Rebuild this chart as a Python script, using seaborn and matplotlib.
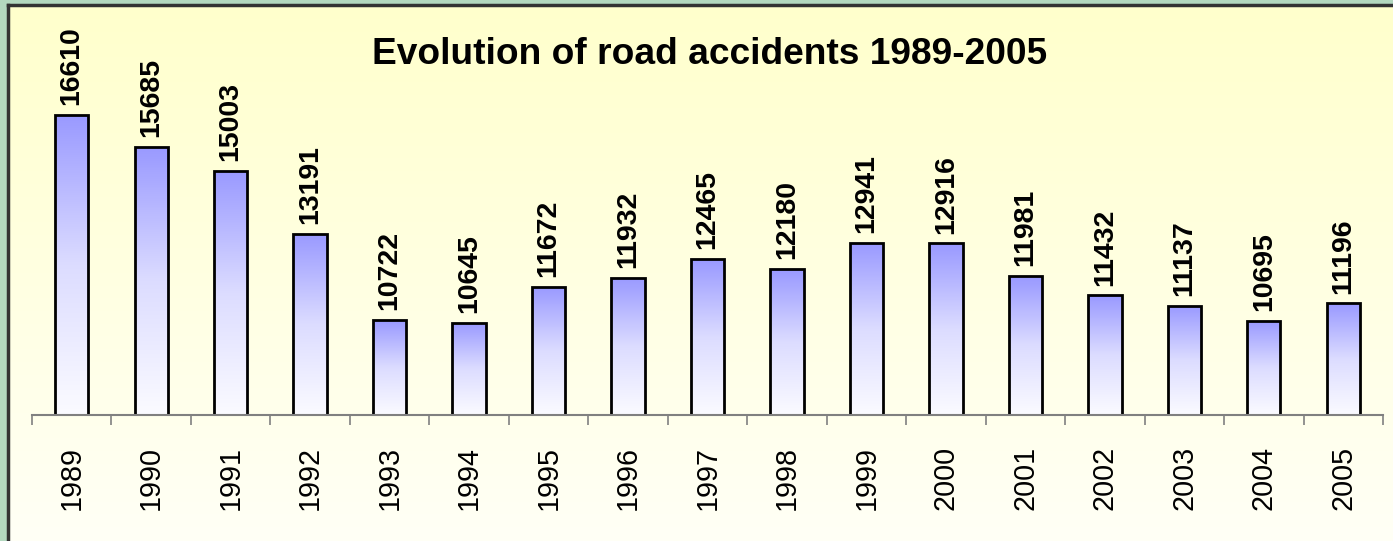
import numpy as np
import pandas as pd
import matplotlib
matplotlib.use('Agg')
import matplotlib.pyplot as plt
import seaborn as sns
from matplotlib.colors import LinearSegmentedColormap
from matplotlib.ticker import FixedLocator

years = ['1989', '1990', '1991', '1992', '1993', '1994', '1995', '1996', '1997',
         '1998', '1999', '2000', '2001', '2002', '2003', '2004', '2005']
accidents = [16610, 15685, 15003, 13191, 10722, 10645, 11672, 11932, 12465,
             12180, 12941, 12916, 11981, 11432, 11137, 10695, 11196]
title = 'Evolution of road accidents 1989-2005'

sns.set_style('white')
plt.rcParams['font.family'] = ['Liberation Sans', 'DejaVu Sans']
plt.rcParams['text.color'] = 'black'
plt.rcParams['xtick.labelcolor'] = 'black'

df = pd.DataFrame({'year': years, 'accidents': accidents})

W, H = 1393, 541
fig = plt.figure(figsize=(W / 100, H / 100), dpi=100)
fig.patch.set_facecolor('#b3d8bf')

# light yellow panel with dark border on top/left
panel = fig.add_axes([8 / W, 0, 1 - 8 / W, 1 - 5 / H], zorder=-1)
yellow = LinearSegmentedColormap.from_list('yel', ['#fffff6', '#ffffcc'])
panel.imshow(np.linspace(0, 1, 256).reshape(-1, 1), cmap=yellow, aspect='auto',
             extent=[0, 1, 0, 1], origin='lower')
panel.set_xticks([])
panel.set_yticks([])
for side in ['right', 'bottom']:
    panel.spines[side].set_visible(False)
for side in ['top', 'left']:
    panel.spines[side].set_color('#333333')
    panel.spines[side].set_linewidth(2.5)

ax = fig.add_axes([32 / W, 126 / H, 1351 / W, 349 / H])
ax.patch.set_alpha(0)

sns.barplot(data=df, x='year', y='accidents', ax=ax, color='#9999ff',
            edgecolor='black', linewidth=2, width=0.42, saturation=1)

ymin, ymax = 8000, 18000

# vertical blue -> white gradient inside each bar
blue = LinearSegmentedColormap.from_list('blu', ['#fbfbff', '#dcdcff', '#9999ff'])
grad = np.linspace(0, 1, 256).reshape(-1, 1)
for p in ax.patches:
    x0, y0, w, h = p.get_x(), p.get_y(), p.get_width(), p.get_height()
    im = ax.imshow(grad, cmap=blue, aspect='auto', origin='lower',
                   extent=[x0, x0 + w, ymin, y0 + h], zorder=p.get_zorder() - 0.1)
    im.set_clip_path(p)
    p.set_facecolor('none')
ax.set_ylim(ymin, ymax)
ax.set_xlim(-0.5, len(years) - 0.5)

for i, v in enumerate(accidents):
    ax.annotate(f'{v}', (i, v), xytext=(0, 7), textcoords='offset points',
                rotation=90, ha='center', va='bottom', fontsize=20.5,
                fontweight='bold', annotation_clip=False)

ax.set_xlabel('')
ax.set_ylabel('')
ax.set_yticks([])
for side in ['top', 'right', 'left']:
    ax.spines[side].set_visible(False)
ax.spines['bottom'].set_color('#808080')
ax.spines['bottom'].set_linewidth(1.5)

ax.xaxis.set_minor_locator(FixedLocator(np.arange(-0.5, len(years), 1)))
ax.tick_params(axis='x', which='major', length=0, pad=22, labelsize=20.7,
               labelrotation=90)
ax.tick_params(axis='x', which='minor', length=7, width=1.2, color='#808080',
               direction='out', bottom=True)

fig.text(710 / W, 1 - 55 / H, title, ha='center', va='center',
         fontsize=26.7, fontweight='bold')

fig.savefig('out.png', dpi=100, facecolor=fig.get_facecolor())
